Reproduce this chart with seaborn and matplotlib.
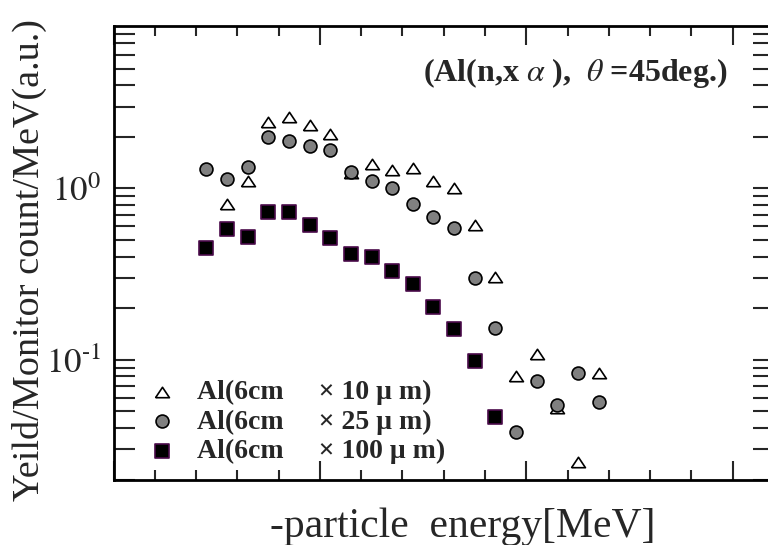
import numpy as np
import pandas as pd
import matplotlib
matplotlib.use("Agg")
import matplotlib.pyplot as plt
from matplotlib.ticker import MultipleLocator, LogLocator, NullFormatter, FixedLocator
import seaborn as sns

# Alpha-particle yields per foil thickness
energy_10um = [5.5, 6.5, 7.5, 8.5, 9.5, 10.5, 11.5, 12.5, 13.5, 14.5,
               15.5, 16.5, 17.5, 18.5, 19.5, 20.5, 21.5, 22.5, 23.5]
yield_10um = [0.81, 1.10, 2.45, 2.59, 2.34, 2.07, 1.23, 1.38, 1.28, 1.31,
              1.10, 1.01, 0.61, 0.305, 0.080, 0.108, 0.052, 0.0254, 0.084]

energy_25um = [4.5, 5.5, 6.5, 7.5, 8.5, 9.5, 10.5, 11.5, 12.5, 13.5,
               14.5, 15.5, 16.5, 17.5, 18.5, 19.5, 20.5, 21.5, 22.5, 23.5]
yield_25um = [1.29, 1.13, 1.33, 2.00, 1.88, 1.77, 1.67, 1.245, 1.10, 1.00,
              0.81, 0.683, 0.589, 0.301, 0.154, 0.0378, 0.0752, 0.0547, 0.0834, 0.057]

energy_100um = [4.5, 5.5, 6.5, 7.5, 8.5, 9.5, 10.5, 11.5, 12.5, 13.5,
                14.5, 15.5, 16.5, 17.5, 18.5]
yield_100um = [0.447, 0.581, 0.522, 0.725, 0.725, 0.609, 0.513, 0.414, 0.396, 0.331,
               0.275, 0.204, 0.151, 0.0984, 0.0466]

series_labels = ["Al(6cm     \u00d7 10 \u03bc m)",
                 "Al(6cm     \u00d7 25 \u03bc m)",
                 "Al(6cm     \u00d7 100 \u03bc m)"]

sns.set_theme(style="ticks")
plt.rcParams["font.family"] = ["Liberation Serif", "DejaVu Serif"]
plt.rcParams["mathtext.fontset"] = "stix"

W, H = 768, 545
fig = plt.figure(figsize=(W / 100, H / 100), dpi=100)
left, right, top, bottom = 113.5, 774.0, 26.0, 480.0
ax = fig.add_axes([left / W, 1 - bottom / H, (right - left) / W, (bottom - top) / H])

# flattened open triangle
tri = [(-1.0, -0.75), (1.0, -0.75), (0.0, 0.75), (-1.0, -0.75)]

sns.scatterplot(x=energy_10um, y=yield_10um, marker=tri, s=100, color="white",
                edgecolor="black", linewidth=1.2, label=series_labels[0], ax=ax, zorder=3)
sns.scatterplot(x=energy_25um, y=yield_25um, marker="o", s=86, color="#808080",
                edgecolor="black", linewidth=1.2, label=series_labels[1], ax=ax, zorder=4)
sns.scatterplot(x=energy_100um, y=yield_100um, marker="s", s=100, color="black",
                edgecolor="#4a0a4a", linewidth=1.2, label=series_labels[2], ax=ax, zorder=5)

ax.set_yscale("log")
ax.set_xlim(0, 32)
ax.set_ylim(0.0199, 8.85)

ax.xaxis.set_major_locator(MultipleLocator(10))
ax.xaxis.set_minor_locator(MultipleLocator(2))
ax.xaxis.set_major_formatter(NullFormatter())
ax.yaxis.set_major_locator(FixedLocator([0.1, 1.0]))
ax.yaxis.set_minor_locator(LogLocator(base=10, subs=np.arange(2, 10)))
ax.yaxis.set_minor_formatter(NullFormatter())
ax.set_yticklabels([r"$10^{\text{-}1}$", r"$10^{0}$"], fontsize=25)

ax.tick_params(axis="x", which="major", direction="in", length=14, width=1.5,
               top=True, bottom=True)
ax.tick_params(axis="x", which="minor", direction="in", length=7, width=1.5,
               top=True, bottom=True)
ax.tick_params(axis="y", which="both", direction="in", length=15, width=1.5,
               left=True, right=True, pad=9)
for sp in ax.spines.values():
    sp.set_linewidth(2.0)
    sp.set_color("black")

ax.set_xlabel("-particle  energy[MeV]", fontsize=30)
ax.xaxis.set_label_coords(0.529, -0.06)
ax.set_ylabel("Yeild/Monitor count/MeV(a.u.)", fontsize=27.5)
ax.yaxis.set_label_coords(-0.1007, 0.4835)

fig.text(423 / W, 1 - 73 / H, r"(Al(n,x $\alpha$ ),  $\theta$ =45deg.)",
         fontsize=23, fontweight="bold", ha="left", va="center")

leg = ax.legend(loc="center left", bbox_to_anchor=(147.8 / W, 1 - 422 / H),
                bbox_transform=fig.transFigure, frameon=False, borderpad=0,
                borderaxespad=0, handlelength=1.0, handletextpad=0.76,
                labelspacing=0.15, prop={"size": 20, "weight": "bold"})

fig.savefig("out.png", dpi=100)
